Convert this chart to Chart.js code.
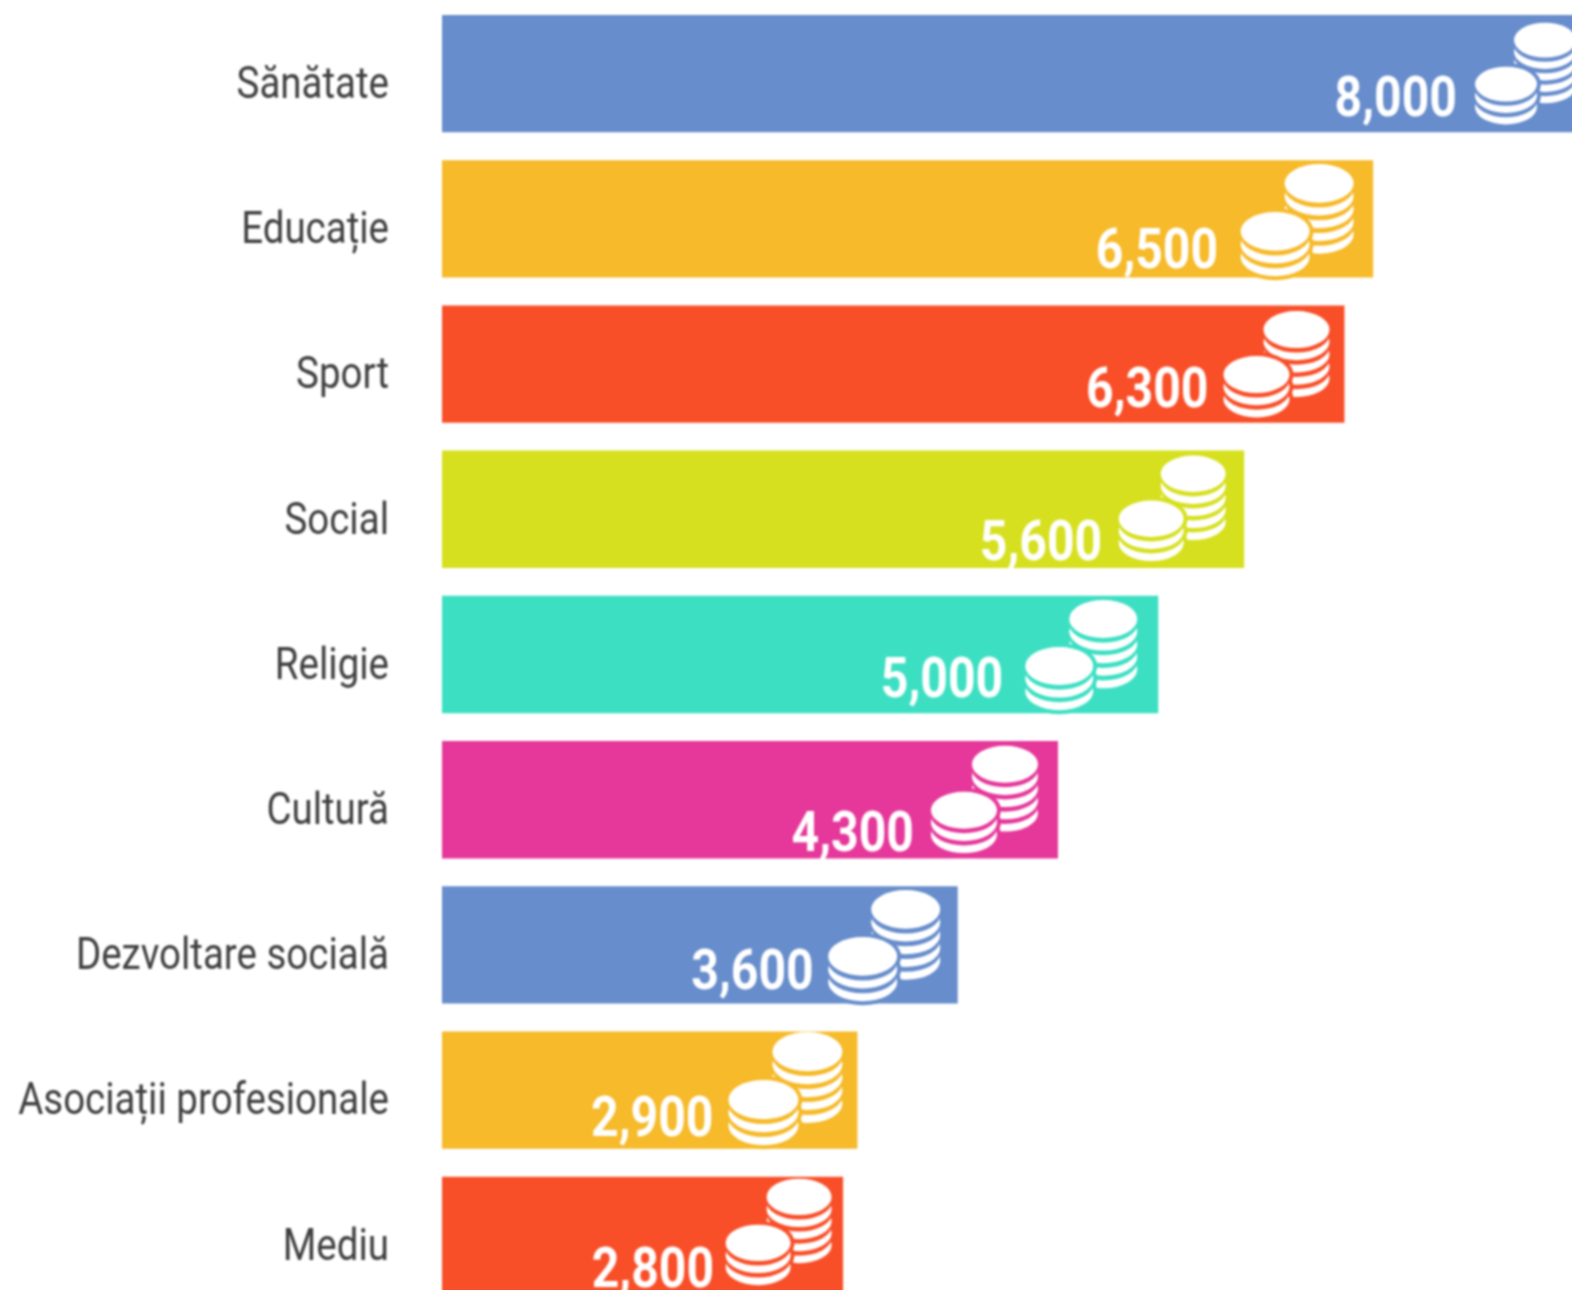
<!DOCTYPE html>
<html lang="ro">
<head>
  <meta charset="UTF-8" />
  <title>Finanțare pe domenii</title>
  <script src="https://cdn.jsdelivr.net/npm/chart.js"></script>
  <style>
    html, body { margin: 0; padding: 0; background: #fff; overflow: hidden; }
    /* the last bars run off the picture, so the canvas is bigger than the frame */
    #frame { position: fixed; left: 0; top: 0; width: 1572px; height: 1290px; overflow: hidden; }
    #chart { display: block; filter: blur(1px); }
  </style>
</head>
<body>
  <div id="frame"><canvas id="chart" width="1590" height="1310"></canvas></div>

  <script>
    const categories = ['Sănătate', 'Educație', 'Sport', 'Social', 'Religie', 'Cultură', 'Dezvoltare socială', 'Asociații profesionale', 'Mediu'];
    const values = [8000, 6500, 6300, 5600, 5000, 4300, 3600, 2900, 2800];
    const barColors = ['#678DCC', '#F6BA2A', '#F84F29', '#D6E01F', '#3DDFC3', '#E5389A', '#678DCC', '#F6BA2A', '#F84F29'];

    // hand placement of the value and the coins, relative to the bar end and bar middle
    const labelRight = [131, 155, 136, 142, 155, 144, 144, 144, 129];
    const labelDy = [28, 35, 29, 37, 28, 37, 30, 32, 38];
    const backDx = [-43, -54, -48, -51, -55, -53, -52, -50, -44];
    const backDy = [-33.5, -35.5, -34.5, -35.5, -35.5, -35.5, -35.5, -38.5, -38.5];
    const frontDx = [-82, -98, -88, -93, -99, -94, -95, -94, -85];
    const frontDy = [10.5, 12.5, 10.5, 9.5, 11.5, 10.5, 11.5, 9.5, 7.5];
    const coinWidth = [62, 69, 66, 65, 68, 66, 69, 70, 65];

    // Roboto is squeezed to look like the condensed cut of the original
    function condensedText(ctx, text, x, y, font, color, squeeze) {
      ctx.save();
      ctx.translate(x, y);
      ctx.scale(squeeze, 1);
      ctx.font = font;
      ctx.fillStyle = color;
      ctx.textAlign = 'right';
      ctx.textBaseline = 'middle';
      ctx.fillText(text, 0, 0);
      ctx.restore();
    }

    function coinStack(ctx, cx, cy, w, discs, color, halo) {
      const rx = w / 2;
      const ry = w * 0.28;
      const step = w * 0.185;
      const disc = (y, fill, grow) => {
        ctx.beginPath();
        ctx.ellipse(cx, y, rx + grow, ry + grow, 0, 0, Math.PI * 2);
        ctx.fillStyle = fill;
        ctx.fill();
      };
      if (halo) {
        for (let k = discs - 1; k >= 0; k--) disc(cy + k * step, color, 4);
      }
      for (let k = discs - 1; k >= 0; k--) {
        disc(cy + k * step, '#fff', 0);
        if (k > 0) disc(cy + k * step - w * 0.125, color, 0.6);
      }
    }

    const decorPlugin = {
      id: 'decor',
      afterDatasetsDraw(chart) {
        const ctx = chart.ctx;
        const yScale = chart.scales.y;
        const bars = chart.getDatasetMeta(0).data;

        categories.forEach((name, i) => {
          condensedText(ctx, name, 389, yScale.getPixelForValue(i) + 13, '400 45px Roboto', '#3F3F3F', 0.855);
        });

        bars.forEach((bar, i) => {
          const end = bar.x;
          const mid = bar.y;
          coinStack(ctx, end + backDx[i], mid + backDy[i], coinWidth[i], 5, barColors[i], false);
          coinStack(ctx, end + frontDx[i], mid + frontDy[i], coinWidth[i], 3, barColors[i], true);
          condensedText(ctx, values[i].toLocaleString('en-US'), end - labelRight[i], mid + labelDy[i], '700 56px Roboto', '#ffffff', 0.86);
        });
      }
    };

    new Chart(document.getElementById('chart').getContext('2d'), {
      type: 'bar',
      data: {
        labels: categories,
        datasets: [{
          data: values,
          backgroundColor: barColors,
          borderWidth: 0,
          barPercentage: 0.808,
          categoryPercentage: 1
        }]
      },
      plugins: [decorPlugin],
      options: {
        indexAxis: 'y',
        responsive: false,
        animation: false,
        layout: { padding: { left: 442, right: 2, top: 1, bottom: 2 } },
        plugins: {
          legend: { display: false },
          tooltip: { enabled: false }
        },
        scales: {
          x: { display: false, min: 0, max: 8000 },
          y: { display: false }
        }
      }
    });
  </script>
</body>
</html>
